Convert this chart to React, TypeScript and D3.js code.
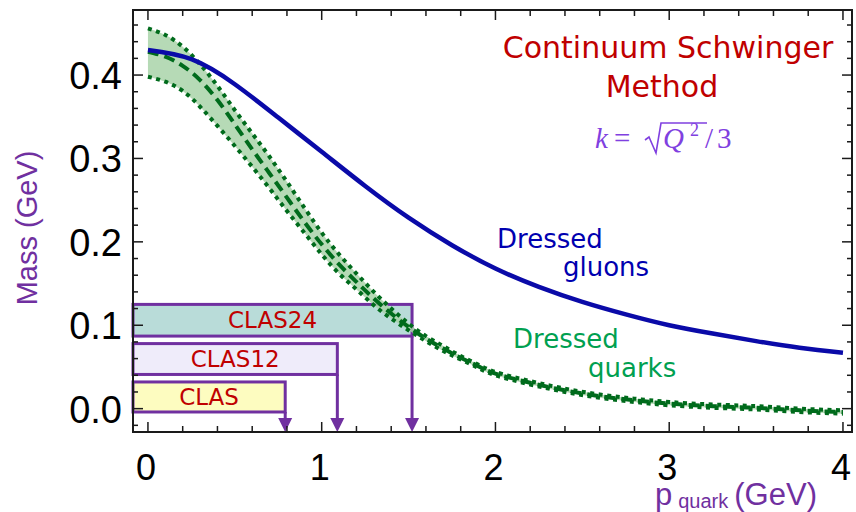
import React, { useEffect, useRef } from "react";
import * as d3 from "d3";

// dressed gluon mass curve
const gluonP = [0, 0.25, 0.5, 0.75, 1, 1.25, 1.5, 1.75, 2, 2.25, 2.5, 2.75, 3, 3.25, 3.5, 3.75, 4];
const gluonMass = [0.43, 0.419, 0.389, 0.349, 0.308, 0.267, 0.229, 0.196, 0.168, 0.146, 0.128, 0.113, 0.1, 0.09, 0.081, 0.073, 0.067];

// dressed quark mass: central curve and band
const quarkP = [0, 0.1, 0.2, 0.3, 0.4, 0.5, 0.6, 0.7, 0.8, 0.9, 1, 1.1, 1.2, 1.3, 1.4, 1.5, 1.6, 1.7, 1.8, 1.9, 2,
  2.2, 2.4, 2.6, 2.8, 3, 3.25, 3.5, 3.75, 4];
const quarkMass = [0.428, 0.422, 0.411, 0.394, 0.37, 0.341, 0.311, 0.282, 0.253, 0.224, 0.197, 0.173, 0.152, 0.132,
  0.114, 0.098, 0.084, 0.072, 0.061, 0.051, 0.042, 0.031, 0.022, 0.015, 0.01, 0.006, 0.003, 0.001, -0.002, -0.004];
const quarkUpper = [0.456, 0.448, 0.434, 0.413, 0.387, 0.358, 0.33, 0.302, 0.272, 0.241, 0.211, 0.185, 0.162, 0.14,
  0.12, 0.102, 0.087, 0.075, 0.063, 0.053, 0.044, 0.033, 0.024, 0.017, 0.012, 0.008, 0.005, 0.003, 0.0, -0.002];
const quarkLower = [0.398, 0.392, 0.381, 0.362, 0.339, 0.315, 0.29, 0.264, 0.237, 0.211, 0.185, 0.162, 0.143, 0.124,
  0.108, 0.094, 0.081, 0.069, 0.059, 0.049, 0.04, 0.029, 0.02, 0.013, 0.008, 0.004, 0.001, -0.001, -0.004, -0.006];

// experiment reach boxes
const expNames = ["CLAS24", "CLAS12", "CLAS"];
const expReach = [1.52, 1.09, 0.79];
const expTop = [0.125, 0.078, 0.032];
const expBottom = [0.087, 0.041, -0.004];
const expFill = ["#b9dcd9", "#efecfa", "#fdfcc0"];

const xTicks = [0, 1, 2, 3, 4];
const yTicks = [0.0, 0.1, 0.2, 0.3, 0.4];

function drawChart(container: SVGSVGElement) {
  const width = 856,
    height = 512;
  const purple = "#7030a0";
  const comic = "'Comic Sans MS', 'DejaVu Sans', sans-serif";

  const svg = d3.select(container);
  svg.selectAll("*").remove();
  svg.attr("width", width).attr("height", height);

  const x = d3.scaleLinear().domain([-0.086, 4.052]).range([133, 852]);
  const y = d3.scaleLinear().domain([-0.028, 0.478]).range([432, 10]);
  const [x0, x1] = x.range();
  const [yb, yt] = y.range();

  // experiment boxes with arrows
  expNames.forEach((name, i) => {
    const bx = x(expReach[i]);
    svg
      .append("rect")
      .attr("x", x0)
      .attr("y", y(expTop[i]))
      .attr("width", bx - x0)
      .attr("height", y(expBottom[i]) - y(expTop[i]))
      .style("fill", expFill[i])
      .style("stroke", purple)
      .style("stroke-width", "3px");
    svg
      .append("line")
      .attr("x1", bx)
      .attr("x2", bx)
      .attr("y1", y(expBottom[i]))
      .attr("y2", yb - 10)
      .style("stroke", purple)
      .style("stroke-width", "3px");
    svg
      .append("path")
      .attr("d", `M${bx - 7},${yb - 14} L${bx + 7},${yb - 14} L${bx},${yb} Z`)
      .style("fill", purple);
    svg
      .append("text")
      .attr("x", (x0 + bx) / 2)
      .attr("y", (y(expTop[i]) + y(expBottom[i])) / 2 + 8)
      .attr("text-anchor", "middle")
      .style("font-family", comic)
      .style("font-size", "23px")
      .style("fill", "#c00000")
      .text(name);
  });

  // quark band
  const band = d3
    .area<number>()
    .x((d, i) => x(quarkP[i]))
    .y0((d, i) => y(quarkLower[i]))
    .y1((d, i) => y(quarkUpper[i]))
    .curve(d3.curveNatural);
  svg
    .append("path")
    .attr("d", band(quarkP))
    .style("fill", "#a9d3a9")
    .style("opacity", 0.85);

  const line = d3
    .line<number>()
    .x((d, i) => x(quarkP[i]))
    .y((d) => y(d))
    .curve(d3.curveNatural);

  [quarkUpper, quarkLower].forEach((arr) => {
    svg
      .append("path")
      .attr("d", line(arr))
      .style("fill", "none")
      .style("stroke", "#006b1c")
      .style("stroke-width", "4px")
      .style("stroke-dasharray", "4 4.5");
  });
  svg
    .append("path")
    .attr("d", line(quarkMass))
    .style("fill", "none")
    .style("stroke", "#006b1c")
    .style("stroke-width", "4px")
    .style("stroke-dasharray", "11 6");

  // gluon curve
  const gluonLine = d3
    .line<number>()
    .x((d, i) => x(gluonP[i]))
    .y((d) => y(d))
    .curve(d3.curveNatural);
  svg
    .append("path")
    .attr("d", gluonLine(gluonMass))
    .style("fill", "none")
    .style("stroke", "#0a0aa8")
    .style("stroke-width", "4.5px");

  // frame
  svg
    .append("rect")
    .attr("x", x0)
    .attr("y", yt)
    .attr("width", x1 - x0)
    .attr("height", yb - yt)
    .style("fill", "none")
    .style("stroke", "#1a1a1a")
    .style("stroke-width", "2px");

  // ticks on all four sides, pointing inwards
  const ticks = svg.append("g").style("stroke", "#1a1a1a").style("stroke-width", "1.5px");
  d3.range(0, 4.01, 0.2).forEach((v) => {
    const major = Math.abs(v - Math.round(v)) < 1e-6;
    const len = major ? 10 : 6;
    ticks.append("line").attr("x1", x(v)).attr("x2", x(v)).attr("y1", yb).attr("y2", yb - len);
    ticks.append("line").attr("x1", x(v)).attr("x2", x(v)).attr("y1", yt).attr("y2", yt + len);
  });
  d3.range(-0.02, 0.47, 0.02).forEach((v) => {
    const major = Math.abs(v * 10 - Math.round(v * 10)) < 1e-6;
    const len = major ? 10 : 5;
    ticks.append("line").attr("x1", x0).attr("x2", x0 + len).attr("y1", y(v)).attr("y2", y(v));
    ticks.append("line").attr("x1", x1).attr("x2", x1 - len).attr("y1", y(v)).attr("y2", y(v));
  });

  // tick labels
  svg
    .selectAll(".xlab")
    .data(xTicks)
    .enter()
    .append("text")
    .attr("x", (d) => x(d) - 2)
    .attr("y", 480)
    .attr("text-anchor", "middle")
    .style("font-family", "'Liberation Sans', Arial, sans-serif")
    .style("font-size", "36px")
    .style("fill", "#000")
    .text((d) => d);
  svg
    .selectAll(".ylab")
    .data(yTicks)
    .enter()
    .append("text")
    .attr("x", 122)
    .attr("y", (d) => y(d) + 14)
    .attr("text-anchor", "end")
    .style("font-family", "'Liberation Sans', Arial, sans-serif")
    .style("font-size", "38px")
    .style("fill", "#000")
    .text((d) => d.toFixed(1));

  // axis titles
  svg
    .append("text")
    .attr("transform", "translate(37,228) rotate(-90)")
    .attr("text-anchor", "middle")
    .style("font-family", "'Liberation Sans', Arial, sans-serif")
    .style("font-size", "29px")
    .style("fill", purple)
    .text("Mass (GeV)");
  const xt = svg
    .append("text")
    .attr("x", 655)
    .attr("y", 505)
    .style("font-family", "'Liberation Sans', Arial, sans-serif")
    .style("fill", purple);
  xt.append("tspan").style("font-size", "31px").text("p");
  xt.append("tspan").attr("dx", 6).attr("dy", 3).style("font-size", "20px").text("quark");
  xt.append("tspan").attr("dx", 6).attr("dy", -3).style("font-size", "31px").text("(GeV)");

  // title
  svg
    .append("text")
    .attr("x", 668)
    .attr("y", 58)
    .attr("text-anchor", "middle")
    .style("font-family", comic)
    .style("font-size", "30px")
    .style("fill", "#c00000")
    .text("Continuum Schwinger");
  svg
    .append("text")
    .attr("x", 662)
    .attr("y", 97)
    .attr("text-anchor", "middle")
    .style("font-family", comic)
    .style("font-size", "30px")
    .style("fill", "#c00000")
    .text("Method");

  // formula k = sqrt(Q^2)/3
  const fcol = "#8040e0";
  const f = svg
    .append("text")
    .attr("y", 148)
    .style("font-family", "'Liberation Serif', 'DejaVu Serif', serif")
    .style("font-size", "29px")
    .style("fill", fcol);
  f.append("tspan").attr("x", 595).style("font-style", "italic").text("k");
  f.append("tspan").attr("x", 614).text("=");
  f.append("tspan").attr("x", 663).style("font-style", "italic").text("Q");
  f.append("tspan").attr("x", 690).attr("dy", -12).style("font-size", "18px").text("2");
  f.append("tspan").attr("x", 705).attr("dy", 12).text("/");
  f.append("tspan").attr("x", 717).text("3");
  svg
    .append("path")
    .attr("d", "M645,140 L649,137 L656,153 L661,123 L707,123")
    .style("fill", "none")
    .style("stroke", fcol)
    .style("stroke-width", "1.6px");

  // curve labels
  const labels = [
    { t: "Dressed", x: 497, y: 248, c: "#0000b0" },
    { t: "gluons", x: 563, y: 276, c: "#0000b0" },
    { t: "Dressed", x: 513, y: 348, c: "#00a050" },
    { t: "quarks", x: 588, y: 377, c: "#00a050" },
  ];
  labels.forEach((l) => {
    svg
      .append("text")
      .attr("x", l.x)
      .attr("y", l.y)
      .style("font-family", comic)
      .style("font-size", "26px")
      .style("fill", l.c)
      .text(l.t);
  });
}

export default function App() {
  const ref = useRef<SVGSVGElement>(null);
  useEffect(() => {
    if (ref.current) drawChart(ref.current);
  }, []);
  return (
    <svg
      ref={ref}
      width={856}
      height={512}
      style={{ position: "absolute", left: 0, top: 0, background: "#fff" }}
    />
  );
}
